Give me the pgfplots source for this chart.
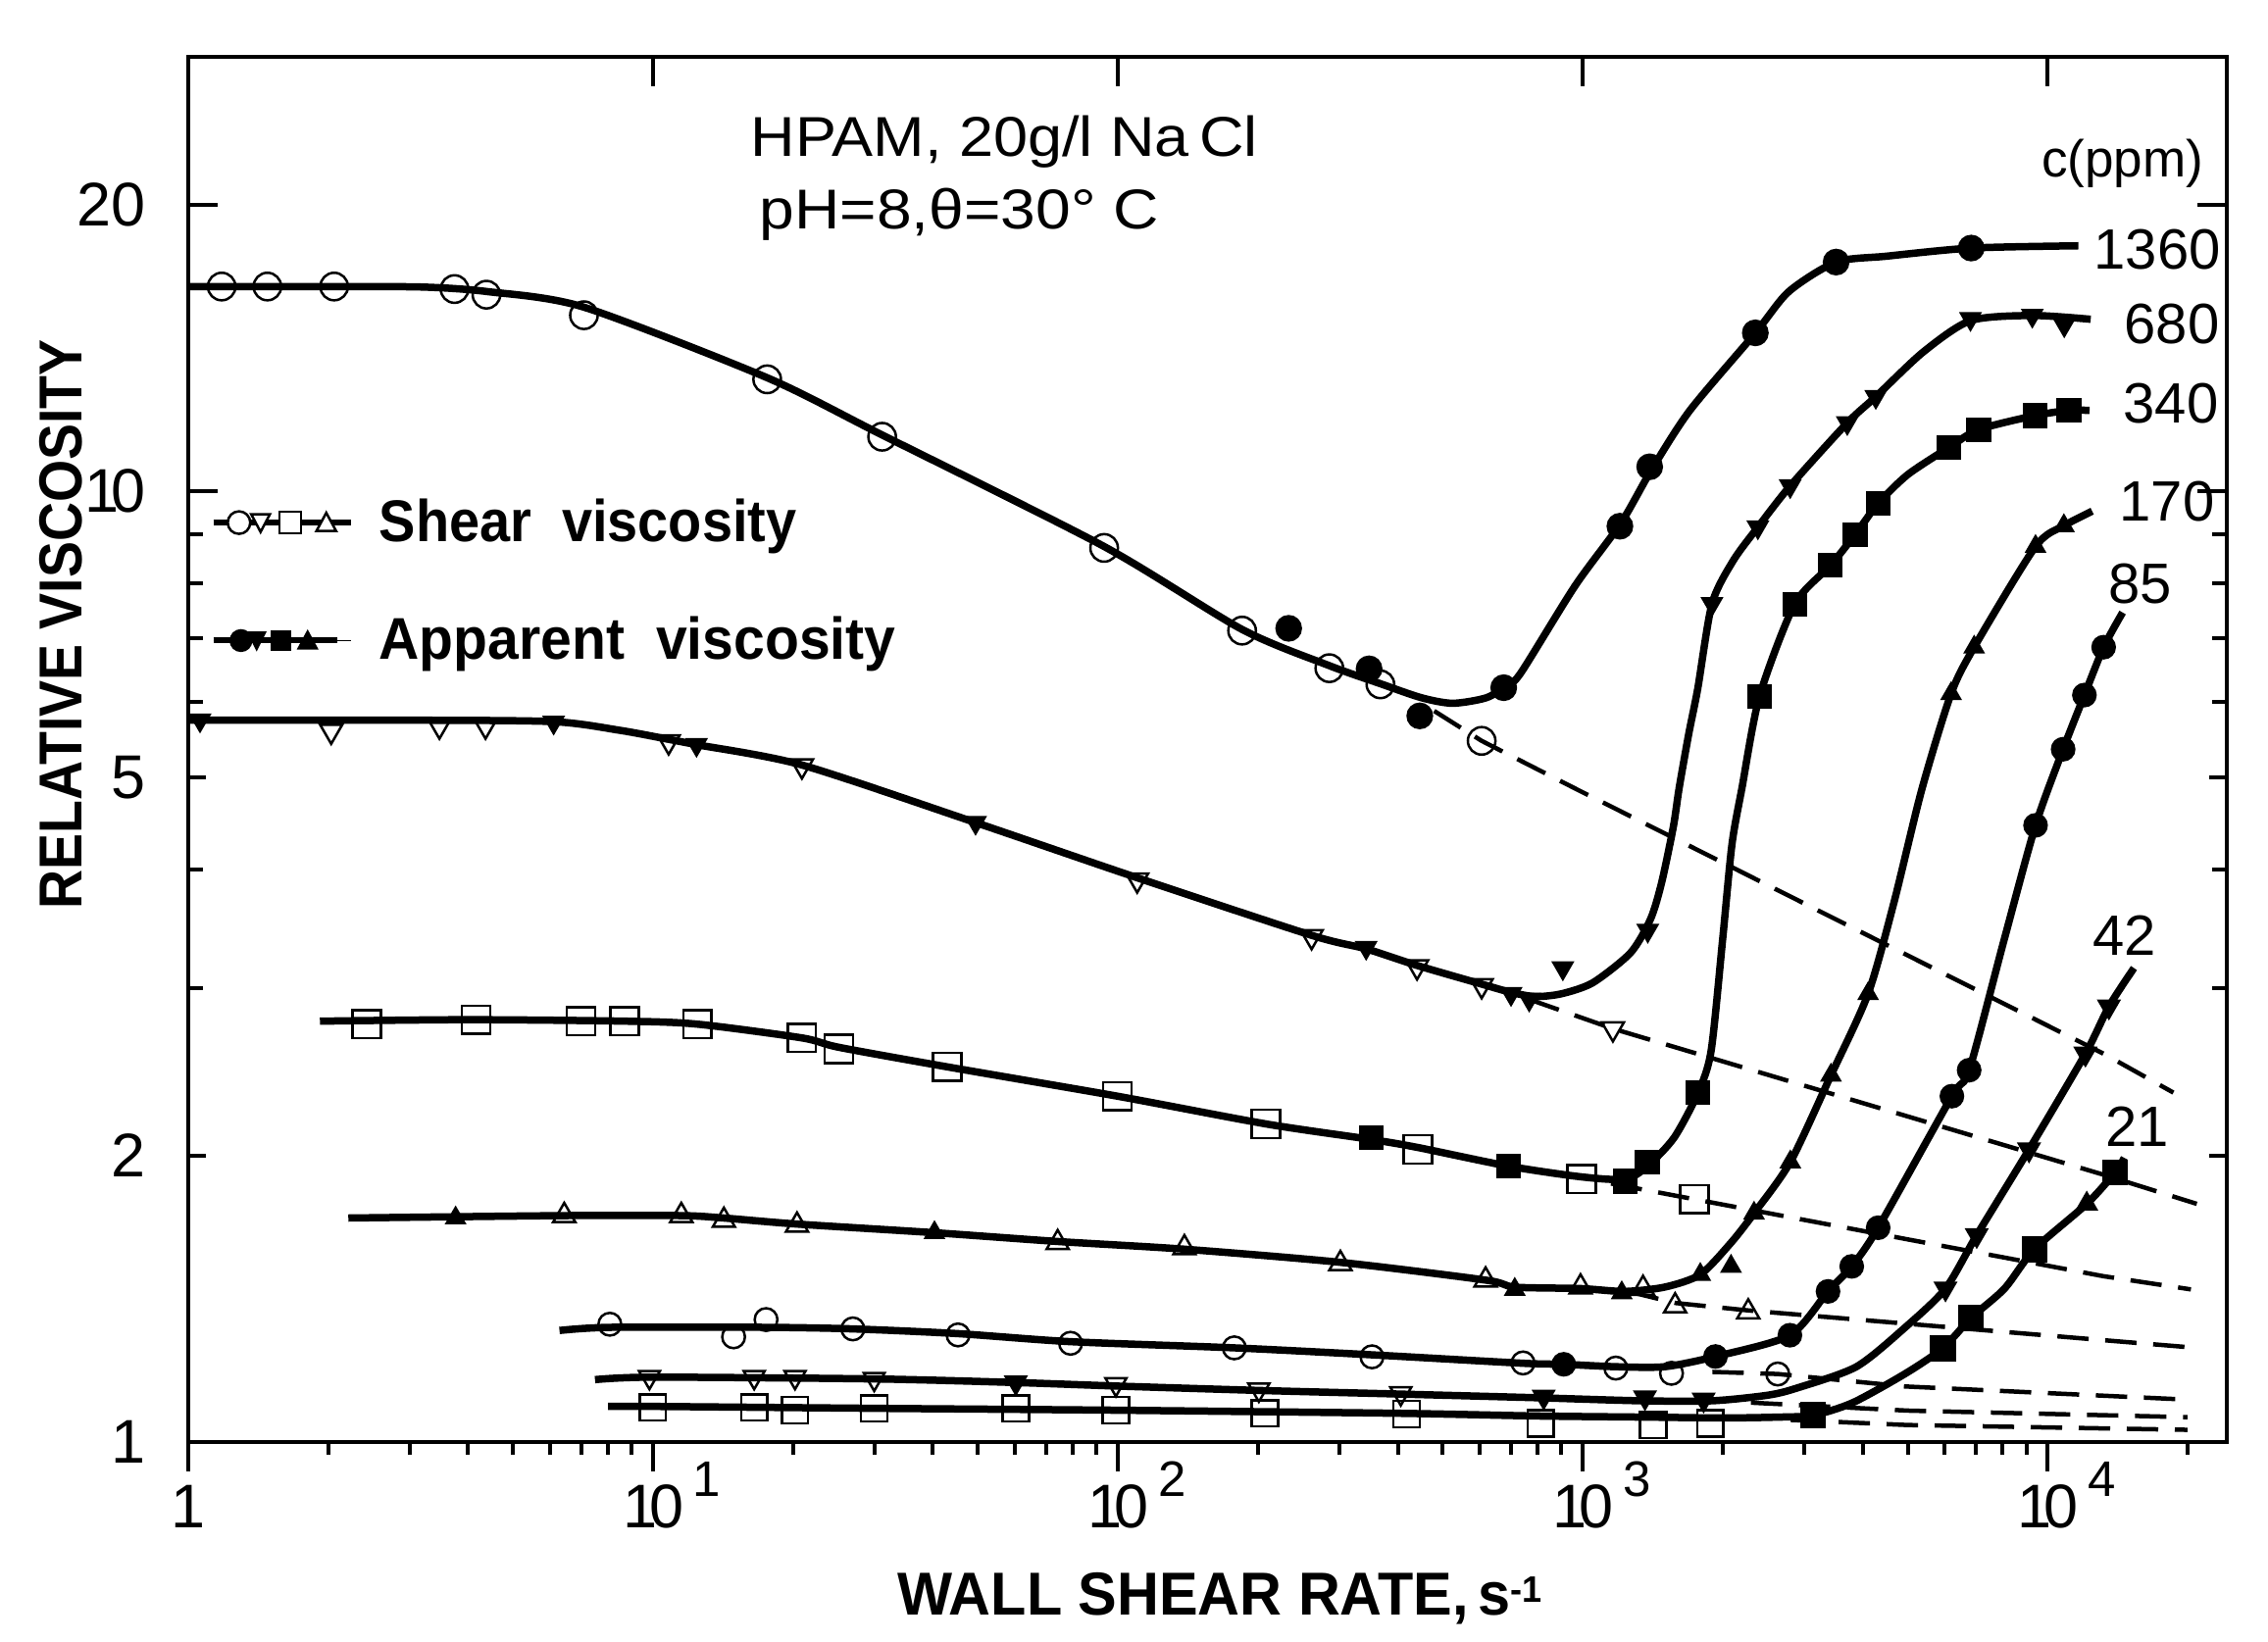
\documentclass[border=0pt]{standalone}
\usepackage{fontspec}
\setmainfont{Liberation Sans}
\usepackage{graphicx}
\usepackage{pgfplots}
\pgfplotsset{compat=1.18}

\newcommand{\tickfont}{\fontsize{17.9}{20}\selectfont}
\newcommand{\supf}{\fontsize{14.5}{16}\selectfont}
\newcommand{\ten}{1\kern-0.13em0}
\newcommand{\ex}[1]{\ten\rlap{\hspace{1.0mm}\raisebox{3.2mm}{\supf #1}}}
\newcommand{\legfont}{\fontsize{17.1}{19}\selectfont\bfseries}
\newcommand{\titfont}{\fontsize{16.3}{18}\selectfont}
\newcommand{\cfont}{\fontsize{16.5}{18}\selectfont}
\newcommand{\axfont}{\fontsize{17.6}{19}\selectfont\bfseries}

\pgfplotsset{
  sol/.style={forget plot, black, line width=0.75mm, smooth, tension=0.45, mark=none},
  dsh/.style={forget plot, black, line width=0.45mm, dash pattern=on 3.2mm off 1.7mm, mark=none},
  om/.style={forget plot, black, only marks, mark options={solid, line width=0.25mm}},
  omd/.style={forget plot, black, only marks, mark options={solid, line width=0.25mm, rotate=180}},
  fm/.style={forget plot, black, only marks, mark options={solid, fill=black, line width=0.2mm}},
  fmd/.style={forget plot, black, only marks, mark options={solid, fill=black, line width=0.2mm, rotate=180}},
}

\begin{document}
\begin{tikzpicture}[x=1mm,y=1mm]
\useasboundingbox (0,0) rectangle (231.3,167.5);
\begin{axis}[
  at={(19.2mm,20.4mm)}, anchor=south west,
  scale only axis, width=207.9mm, height=141.3mm,
  xmode=log, ymode=log,
  xmin=1, xmax=24300, ymin=1, ymax=28.6,
  axis line style={line width=0.4mm},
  tick style={line width=0.4mm, black},
  tick align=inside,
  major tick length=3mm, minor tick length=1.5mm,
  xtick={1,10,100,1000,10000},
  xticklabels={1,\ex{1},\ex{2},\ex{3},\ex{4}},
  xtick pos=right, xticklabel pos=left,
  xminorticks=false,
  xticklabel style={font=\tickfont, anchor=base, inner sep=0pt, yshift=-8.8mm},
  ytick={1,10,20}, yticklabels={1,\ten,20},
  extra y ticks={2,5}, extra y tick labels={2,5},
  extra y tick style={major tick length=1.8mm},
  minor ytick={3,4,6,7,8,9},
  ytick pos=both, yticklabel pos=left,
  yticklabel style={font=\tickfont, anchor=east, inner sep=0pt, xshift=-4.3mm},
  legend style={draw=none, fill=none, at={(0.0106,0.6815)}, anchor=north west,
    inner sep=0pt, row sep=7.15mm, column sep=2.6mm, font=\legfont,
    nodes={inner sep=0pt}},
  legend cell align=left,
]
\addlegendimage{legend image code/.code={
  \draw[line width=0.6mm] (0mm,0mm) -- (14mm,0mm);
  \draw[line width=0.25mm, fill=white] (2.6mm,0mm) circle[radius=1.15mm];
  \draw[line width=0.25mm, fill=white] (3.85mm,0.85mm) -- (5.75mm,0.85mm) -- (4.8mm,-0.95mm) -- cycle;
  \draw[line width=0.25mm, fill=white] (6.7mm,-1.1mm) rectangle (8.9mm,1.1mm);
  \draw[line width=0.25mm, fill=white] (10.5mm,-0.85mm) -- (12.5mm,-0.85mm) -- (11.5mm,1.0mm) -- cycle;
}}
\addlegendentry{\scalebox{0.93}[1]{Shear\ \ viscosity}}
\addlegendimage{legend image code/.code={
  \path (0mm,0mm) -- (14mm,0mm);
  \draw[line width=0.6mm] (0mm,0mm) -- (12.6mm,0mm);
  \fill (2.8mm,0mm) circle[radius=1.1mm];
  \fill (3.5mm,0.85mm) -- (5.3mm,0.85mm) -- (4.4mm,-0.95mm) -- cycle;
  \fill (5.9mm,-1.0mm) rectangle (7.9mm,1.0mm);
  \fill (8.6mm,-0.85mm) -- (10.6mm,-0.85mm) -- (9.6mm,1.0mm) -- cycle;
}}
\addlegendentry{\scalebox{0.95}[1]{Apparent\ \ viscosity}}

% ---------------- 1360 ppm ----------------
\addplot[sol] coordinates {(1,16.4) (2,16.4) (3.2,16.38) (4.4,16.2) (7.1,15.6) (17.6,13.15) (31.1,11.45) (93,8.75) (185,7.15) (285,6.55) (367,6.27) (450,6.06) (525,5.98) (620,6.06) (690,6.25) (738,6.45) (963,7.95) (1208,9.25) (1402,10.5) (1700,12.15) (2350,14.65) (2775,16.2) (3508,17.4) (4500,17.65) (6850,18.0) (11650,18.1)};
\addplot[dsh] coordinates {(479,5.87) (606,5.46) (951,4.88) (13300,2.555) (18650,2.33)};
\addplot[om, mark=o, mark size=4pt] coordinates {(1.18,16.4) (1.48,16.4) (2.06,16.4) (3.74,16.3) (4.38,16.08) (7.10,15.3) (17.6,13.1) (31.1,11.4) (93.4,8.71) (185,7.13) (285,6.51) (367,6.26) (606,5.46)};
\addplot[fm, mark=*, mark size=3.6pt] coordinates {(233,7.17) (347,6.50) (446,5.80) (676,6.21) (1202,9.18) (1393,10.6) (2351,14.66) (3508,17.4) (6850,18.0)};

% ---------------- 680 ppm ----------------
\addplot[sol] coordinates {(1,5.74) (3,5.74) (6.1,5.72) (8.5,5.6) (10.8,5.48) (12.4,5.41) (20.9,5.15) (49.4,4.48) (110,3.92) (261,3.41) (342,3.30) (440,3.17) (606,3.03) (701,2.97) (790,2.94) (900,2.96) (1051,3.04) (1268,3.27) (1400,3.55) (1479,3.88) (1567,4.44) (1612,4.87) (1690,5.55) (1768,6.2) (1897,7.61) (2105,8.44) (2381,9.16) (2794,10.12) (3707,11.79) (4270,12.56) (5395,13.99) (6825,15.1) (9270,15.29) (12380,15.15)};
\addplot[dsh] coordinates {(767,2.92) (1161,2.72) (13200,1.91) (20940,1.78)};
\addplot[omd, mark=triangle, mark size=3.7pt] coordinates {(2.03,5.59) (3.47,5.66) (4.36,5.66) (10.8,5.45) (20.9,5.14) (110,3.90) (261,3.40) (440,3.16) (606,3.02) (1161,2.72)};
\addplot[fmd, mark=triangle*, mark size=3.3pt] coordinates {(1.06,5.74) (6.11,5.71) (12.4,5.41) (49.4,4.48) (342,3.31) (701,2.96) (767,2.92) (906,3.15) (1380,3.45) (1897,7.61) (2381,9.16) (2794,10.12) (3707,11.79) (4270,12.56) (6825,15.17) (9270,15.29) (10860,14.94)};

% ---------------- 340 ppm ----------------
\addplot[sol] coordinates {(1.92,2.77) (4,2.78) (8.7,2.77) (12.45,2.75) (20.9,2.66) (25.1,2.60) (42.9,2.48) (99.7,2.31) (208,2.16) (351,2.08) (442,2.04) (693,1.95) (995,1.90) (1236,1.89) (1377,1.95) (1573,2.09) (1771,2.33) (1889,2.58) (2000,3.38) (2094,4.25) (2200,4.87) (2400,6.08) (2856,7.6) (3412,8.35) (3856,9.0) (4320,9.7) (5000,10.4) (6120,11.1) (7110,11.6) (9400,12.0) (11110,12.15) (12310,12.15)};
\addplot[dsh] coordinates {(1150,1.87) (1738,1.80) (13180,1.494) (20340,1.447)};
\addplot[om, mark=square, mark size=4.1pt] coordinates {(2.42,2.75) (4.16,2.78) (7.0,2.77) (8.68,2.77) (12.45,2.75) (20.9,2.66) (25.1,2.59) (42.9,2.48) (99.7,2.31) (208,2.16) (442,2.03) (995,1.89) (1738,1.80)};
\addplot[fm, mark=square*, mark size=3.3pt] coordinates {(351,2.09) (693,1.95) (1236,1.88) (1377,1.97) (1771,2.33) (2400,6.08) (2856,7.6) (3412,8.35) (3856,9.0) (4320,9.7) (6120,11.1) (7110,11.6) (9400,12.0) (11110,12.15)};

% ---------------- 170 ppm ----------------
\addplot[sol] coordinates {(2.21,1.72) (6.4,1.73) (11.5,1.73) (14.2,1.72) (20.4,1.695) (40.3,1.66) (74.2,1.625) (139,1.595) (301,1.545) (618,1.48) (714,1.455) (989,1.45) (1228,1.44) (1500,1.455) (1790,1.50) (2084,1.62) (2336,1.74) (2796,1.97) (3420,2.43) (4110,2.96) (4670,3.69) (5360,4.85) (6200,6.12) (6950,6.85) (9420,8.74) (10840,9.19) (12470,9.52)};
\addplot[dsh] coordinates {(1250,1.44) (1585,1.40) (2276,1.375) (13090,1.28) (20100,1.258)};
\addplot[om, mark=triangle, mark size=3.7pt] coordinates {(6.44,1.73) (11.5,1.73) (14.2,1.71) (20.4,1.69) (74.2,1.62) (139,1.60) (301,1.54) (618,1.48) (989,1.455) (1348,1.45) (1580,1.39) (2270,1.37)};
\addplot[fm, mark=triangle*, mark size=3.1pt] coordinates {(3.76,1.72) (40.3,1.66) (714,1.447) (1213,1.435) (1790,1.50) (2084,1.53) (2336,1.74) (2796,1.97) (3420,2.43) (4110,2.96) (6200,6.12) (6950,6.85) (9420,8.74) (10840,9.19)};

% ---------------- 85 ppm ----------------
\addplot[sol] coordinates {(6.29,1.31) (8.07,1.32) (17.5,1.32) (26.9,1.315) (45.3,1.30) (79.1,1.275) (178,1.256) (352,1.235) (744,1.21) (910,1.207) (1178,1.20) (1500,1.20) (1930,1.23) (2790,1.295) (3370,1.44) (3790,1.53) (4320,1.68) (6225,2.31) (6780,2.46) (8045,3.36) (9420,4.45) (10800,5.35) (12000,6.1) (13200,6.85) (14500,7.45)};
\addplot[dsh] coordinates {(1900,1.185) (2627,1.179) (4940,1.144) (20050,1.108)};
\addplot[om, mark=o, mark size=3.3pt] coordinates {(8.07,1.33) (14.9,1.29) (17.5,1.345) (26.9,1.315) (45.3,1.296) (79.1,1.27) (178,1.256) (352,1.229) (744,1.211) (1178,1.196) (1552,1.181) (2627,1.179)};
\addplot[fm, mark=*, mark size=3.3pt] coordinates {(910,1.207) (1930,1.23) (2790,1.295) (3370,1.44) (3790,1.53) (4320,1.68) (6225,2.31) (6780,2.46) (9420,4.45) (10800,5.35) (12000,6.1) (13200,6.85)};

% ---------------- 42 ppm ----------------
\addplot[sol] coordinates {(7.5,1.163) (10,1.17) (30,1.165) (60,1.155) (100,1.145) (201,1.133) (406,1.123) (804,1.113) (1331,1.105) (1900,1.105) (2500,1.12) (2897,1.14) (3880,1.20) (4940,1.32) (6030,1.45) (7040,1.65) (9120,2.03) (12060,2.56) (13550,2.87) (15340,3.15)};
\addplot[dsh] coordinates {(2300,1.10) (5000,1.079) (20000,1.062)};
\addplot[omd, mark=triangle, mark size=3.5pt] coordinates {(9.82,1.17) (16.5,1.17) (20.2,1.17) (29.9,1.165) (99,1.15) (201,1.135) (406,1.125)};
\addplot[fmd, mark=triangle*, mark size=3.5pt] coordinates {(60.3,1.155) (824,1.116) (1361,1.114) (1820,1.108) (6030,1.45) (7040,1.65) (9120,2.03) (12060,2.56) (13550,2.87)};

% ---------------- 21 ppm ----------------
\addplot[sol] coordinates {(8.0,1.09) (10,1.09) (30,1.085) (100,1.08) (400,1.072) (800,1.065) (1400,1.062) (2000,1.06) (2600,1.062) (3130,1.067) (3810,1.10) (4940,1.18) (5950,1.255) (6840,1.35) (8080,1.45) (9370,1.595) (12140,1.78) (13960,1.92) (14620,1.99)};
\addplot[dsh] coordinates {(2800,1.055) (5000,1.042) (20000,1.030)};
\addplot[om, mark=square, mark size=3.8pt] coordinates {(9.98,1.087) (16.5,1.087) (20.2,1.08) (29.9,1.085) (60.3,1.085) (99,1.08) (207,1.072) (418,1.07) (812,1.046) (1418,1.042) (1880,1.046)};
\addplot[fm, mark=square*, mark size=3.5pt] coordinates {(3130,1.067) (5950,1.255) (6840,1.35) (9370,1.595) (13960,1.92)};
\addplot[fm, mark=triangle*, mark size=3.3pt] coordinates {(12140,1.78)};
\end{axis}

% overlay axis: bottom ticks pointing outward
\begin{axis}[
  at={(19.2mm,20.4mm)}, anchor=south west,
  scale only axis, width=207.9mm, height=141.3mm,
  xmode=log, ymode=log,
  xmin=1, xmax=24300, ymin=1, ymax=28.6,
  axis line style={line width=0.4mm},
  tick style={line width=0.4mm, black},
  tick align=outside,
  major tick length=3mm, minor tick length=1.3mm,
  xtick={1,10,100,1000,10000},
  xticklabels={{},{},{},{},{}},
  minor xtick={2,3,4,5,6,7,8,9,20,30,40,50,60,70,80,90,200,300,400,500,600,700,800,900,2000,3000,4000,5000,6000,7000,8000,9000,20000},
  xtick pos=left,
  ytick=\empty,
]
\end{axis}

% texts
\node[anchor=base west, inner sep=0pt] at (76.5,151.5) {\titfont\scalebox{1.1}[1]{HPAM, 20g/l Na\,Cl}};
\node[anchor=base west, inner sep=0pt] at (77.4,144.1) {\titfont\scalebox{1.12}[1]{pH=8,θ=30° C}};
\node[anchor=base east, inner sep=0pt] at (224.8,149.4) {\fontsize{15.1}{17}\selectfont c(ppm)};
\node[anchor=base west, inner sep=0pt] at (213.5,140.0) {\cfont 1360};
\node[anchor=base west, inner sep=0pt] at (216.6,132.4) {\cfont 680};
\node[anchor=base west, inner sep=0pt] at (216.5,124.3) {\cfont 340};
\node[anchor=base west, inner sep=0pt] at (216.1,114.3) {\cfont 170};
\node[anchor=base west, inner sep=0pt] at (215.0,105.9) {\cfont 85};
\node[anchor=base west, inner sep=0pt] at (213.4,70.0) {\cfont 42};
\node[anchor=base west, inner sep=0pt] at (214.7,50.5) {\cfont 21};
\node[anchor=base, inner sep=0pt] at (124.4,2.7) {\axfont\scalebox{0.96}[1]{WALL SHEAR RATE,\,s\raisebox{1.3mm}{\fontsize{10.7}{12}\selectfont -1}}};
\node[rotate=90, anchor=base, inner sep=0pt] at (8.3,103.8) {\axfont\scalebox{0.897}[1]{RELATIVE VISCOSITY}};
\end{tikzpicture}
\end{document}
